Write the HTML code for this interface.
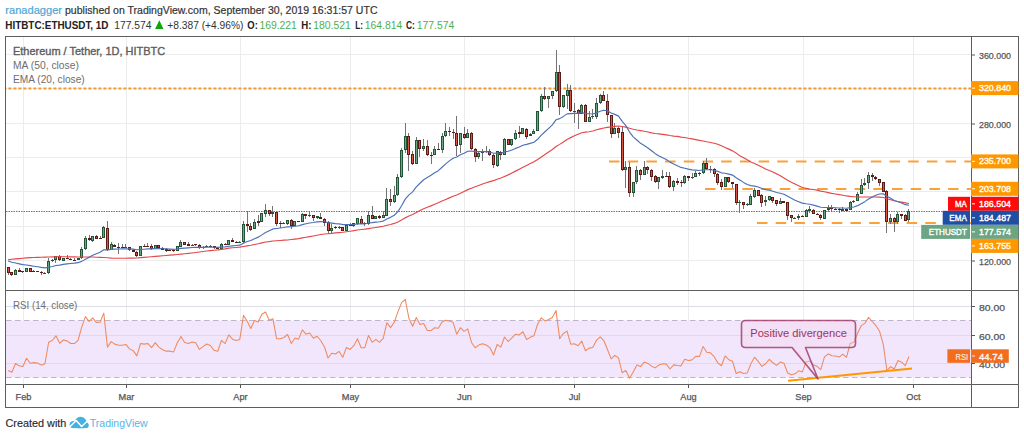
<!DOCTYPE html>
<html><head><meta charset="utf-8"><title>ETHUSDT chart</title><style>html,body{margin:0;padding:0;background:#fff;width:1024px;height:438px;overflow:hidden}svg{display:block}</style></head><body>
<svg width="1024" height="438" viewBox="0 0 1024 438">
<rect width="1024" height="438" fill="#ffffff"/>
<defs><clipPath id="cm"><rect x="6" y="37" width="965" height="253"/></clipPath><clipPath id="cr"><rect x="6" y="291" width="965" height="93"/></clipPath></defs>
<text font-family="&quot;Liberation Sans&quot;, sans-serif" font-size="11.2" y="13.7" stroke-width="0.2"><tspan x="5.3" fill="#4ba6d8" stroke="#4ba6d8" textLength="56.7" lengthAdjust="spacingAndGlyphs">ranadagger</tspan><tspan x="65" fill="#333333" stroke="#333333" textLength="312.5" lengthAdjust="spacingAndGlyphs">published on TradingView.com, September 30, 2019 16:31:57 UTC</tspan></text>
<text font-family="&quot;Liberation Sans&quot;, sans-serif" font-size="11" y="28.7"><tspan x="5.3" fill="#222222" font-weight="bold" textLength="103.2" lengthAdjust="spacingAndGlyphs">HITBTC:ETHUSDT, 1D</tspan><tspan x="114.2" fill="#333333" textLength="37.2" lengthAdjust="spacingAndGlyphs">177.574</tspan><tspan x="167.3" fill="#333333" textLength="76.2" lengthAdjust="spacingAndGlyphs">+8.387 (+4.96%)</tspan><tspan x="247.3" fill="#222222" font-weight="bold" textLength="10.5" lengthAdjust="spacingAndGlyphs">O:</tspan><tspan x="259.4" fill="#4caf50" textLength="37.4" lengthAdjust="spacingAndGlyphs">169.221</tspan><tspan x="301.2" fill="#222222" font-weight="bold" textLength="10.2" lengthAdjust="spacingAndGlyphs">H:</tspan><tspan x="313.3" fill="#4caf50" textLength="37.5" lengthAdjust="spacingAndGlyphs">180.521</tspan><tspan x="355.2" fill="#222222" font-weight="bold" textLength="7.7" lengthAdjust="spacingAndGlyphs">L:</tspan><tspan x="364.8" fill="#4caf50" textLength="37.4" lengthAdjust="spacingAndGlyphs">164.814</tspan><tspan x="406" fill="#222222" font-weight="bold" textLength="8.9" lengthAdjust="spacingAndGlyphs">C:</tspan><tspan x="416.8" fill="#4caf50" textLength="37.5" lengthAdjust="spacingAndGlyphs">177.574</tspan></text>
<polygon points="155.1,29.1 163.5,29.1 159.3,20.3" fill="#0ca60c"/>
<line x1="23.5" y1="37" x2="23.5" y2="384" stroke="#ececec" stroke-width="1"/><line x1="126.5" y1="37" x2="126.5" y2="384" stroke="#ececec" stroke-width="1"/><line x1="240.5" y1="37" x2="240.5" y2="384" stroke="#ececec" stroke-width="1"/><line x1="350.5" y1="37" x2="350.5" y2="384" stroke="#ececec" stroke-width="1"/><line x1="464.5" y1="37" x2="464.5" y2="384" stroke="#ececec" stroke-width="1"/><line x1="574.5" y1="37" x2="574.5" y2="384" stroke="#ececec" stroke-width="1"/><line x1="688.5" y1="37" x2="688.5" y2="384" stroke="#ececec" stroke-width="1"/><line x1="803.5" y1="37" x2="803.5" y2="384" stroke="#ececec" stroke-width="1"/><line x1="913.5" y1="37" x2="913.5" y2="384" stroke="#ececec" stroke-width="1"/><line x1="6" y1="54.5" x2="971" y2="54.5" stroke="#ececec" stroke-width="1"/><line x1="6" y1="88.5" x2="971" y2="88.5" stroke="#ececec" stroke-width="1"/><line x1="6" y1="123.5" x2="971" y2="123.5" stroke="#ececec" stroke-width="1"/><line x1="6" y1="157.5" x2="971" y2="157.5" stroke="#ececec" stroke-width="1"/><line x1="6" y1="191.5" x2="971" y2="191.5" stroke="#ececec" stroke-width="1"/><line x1="6" y1="226.5" x2="971" y2="226.5" stroke="#ececec" stroke-width="1"/><line x1="6" y1="260.5" x2="971" y2="260.5" stroke="#ececec" stroke-width="1"/>
<rect x="6" y="320.5" width="965" height="57" fill="#f1e6fc"/>
<line x1="6" y1="306.5" x2="971" y2="306.5" stroke="#dcdce4" stroke-width="1"/>
<line x1="6" y1="335.5" x2="971" y2="335.5" stroke="#dcdce4" stroke-width="1"/>
<line x1="6" y1="363.5" x2="971" y2="363.5" stroke="#dcdce4" stroke-width="1"/>
<line x1="6" y1="320.5" x2="971" y2="320.5" stroke="#bcb5cc" stroke-width="1" stroke-dasharray="5.5 3.5"/>
<line x1="6" y1="377.5" x2="971" y2="377.5" stroke="#bcb5cc" stroke-width="1" stroke-dasharray="5.5 3.5"/>
<g clip-path="url(#cm)">
<line x1="0" y1="88.6" x2="971" y2="88.6" stroke="#f59a2a" stroke-width="2" stroke-dasharray="3 2" stroke-dashoffset="1.6"/>
<line x1="609" y1="161.5" x2="971" y2="161.5" stroke="#f9a23c" stroke-width="2" stroke-dasharray="10.5 8.2"/>
<line x1="705" y1="189" x2="971" y2="189" stroke="#f9a23c" stroke-width="2" stroke-dasharray="10.5 8.2"/>
<line x1="757" y1="223" x2="971" y2="223" stroke="#f9a23c" stroke-width="2" stroke-dasharray="10.5 8.2"/>
<line x1="6" y1="211.5" x2="971" y2="211.5" stroke="#627a6a" stroke-width="1" stroke-dasharray="1.5 1"/>
<rect x="8" y="267" width="1" height="8" fill="#737375"/><rect x="7" y="267" width="3" height="6" fill="#5b1a13"/><rect x="8" y="268" width="1" height="4" fill="#d75442"/><rect x="11" y="272" width="1" height="4" fill="#737375"/><rect x="10" y="272" width="3" height="3" fill="#5b1a13"/><rect x="11" y="273" width="1" height="1" fill="#d75442"/><rect x="15" y="269" width="1" height="6" fill="#737375"/><rect x="14" y="270" width="3" height="5" fill="#225437"/><rect x="15" y="271" width="1" height="3" fill="#6ba583"/><rect x="19" y="268" width="1" height="4" fill="#737375"/><rect x="18" y="270" width="3" height="2" fill="#5b1a13"/><rect x="22" y="271" width="1" height="2" fill="#737375"/><rect x="21" y="271" width="3" height="1" fill="#5b1a13"/><rect x="26" y="268" width="1" height="4" fill="#737375"/><rect x="25" y="268" width="3" height="4" fill="#225437"/><rect x="26" y="269" width="1" height="2" fill="#6ba583"/><rect x="30" y="268" width="1" height="4" fill="#737375"/><rect x="29" y="268" width="3" height="4" fill="#5b1a13"/><rect x="30" y="269" width="1" height="2" fill="#d75442"/><rect x="33" y="270" width="1" height="2" fill="#737375"/><rect x="32" y="271" width="3" height="1" fill="#5b1a13"/><rect x="37" y="271" width="1" height="1" fill="#737375"/><rect x="36" y="271" width="3" height="1" fill="#5b1a13"/><rect x="41" y="271" width="1" height="4" fill="#737375"/><rect x="40" y="272" width="3" height="1" fill="#5b1a13"/><rect x="44" y="272" width="1" height="2" fill="#737375"/><rect x="43" y="273" width="3" height="1" fill="#225437"/><rect x="48" y="258" width="1" height="16" fill="#737375"/><rect x="47" y="261" width="3" height="12" fill="#225437"/><rect x="48" y="262" width="1" height="10" fill="#6ba583"/><rect x="52" y="259" width="1" height="3" fill="#737375"/><rect x="51" y="260" width="3" height="1" fill="#225437"/><rect x="55" y="256" width="1" height="7" fill="#737375"/><rect x="54" y="256" width="3" height="4" fill="#225437"/><rect x="55" y="257" width="1" height="2" fill="#6ba583"/><rect x="59" y="255" width="1" height="6" fill="#737375"/><rect x="58" y="256" width="3" height="4" fill="#5b1a13"/><rect x="59" y="257" width="1" height="2" fill="#d75442"/><rect x="63" y="258" width="1" height="3" fill="#737375"/><rect x="62" y="258" width="3" height="3" fill="#225437"/><rect x="63" y="259" width="1" height="1" fill="#6ba583"/><rect x="67" y="255" width="1" height="4" fill="#737375"/><rect x="66" y="258" width="3" height="1" fill="#5b1a13"/><rect x="70" y="258" width="1" height="2" fill="#737375"/><rect x="69" y="259" width="3" height="1" fill="#5b1a13"/><rect x="74" y="258" width="1" height="2" fill="#737375"/><rect x="73" y="260" width="3" height="1" fill="#5b1a13"/><rect x="78" y="258" width="1" height="2" fill="#737375"/><rect x="77" y="258" width="3" height="2" fill="#225437"/><rect x="81" y="247" width="1" height="12" fill="#737375"/><rect x="80" y="249" width="3" height="9" fill="#225437"/><rect x="81" y="250" width="1" height="7" fill="#6ba583"/><rect x="85" y="236" width="1" height="14" fill="#737375"/><rect x="84" y="238" width="3" height="11" fill="#225437"/><rect x="85" y="239" width="1" height="9" fill="#6ba583"/><rect x="89" y="235" width="1" height="6" fill="#737375"/><rect x="88" y="238" width="3" height="2" fill="#5b1a13"/><rect x="92" y="236" width="1" height="6" fill="#737375"/><rect x="91" y="236" width="3" height="5" fill="#225437"/><rect x="92" y="237" width="1" height="3" fill="#6ba583"/><rect x="96" y="235" width="1" height="4" fill="#737375"/><rect x="95" y="236" width="3" height="3" fill="#5b1a13"/><rect x="96" y="237" width="1" height="1" fill="#d75442"/><rect x="100" y="236" width="1" height="3" fill="#737375"/><rect x="99" y="238" width="3" height="1" fill="#5b1a13"/><rect x="103" y="226" width="1" height="12" fill="#737375"/><rect x="102" y="227" width="3" height="11" fill="#225437"/><rect x="103" y="228" width="1" height="9" fill="#6ba583"/><rect x="107" y="221" width="1" height="30" fill="#737375"/><rect x="106" y="228" width="3" height="22" fill="#5b1a13"/><rect x="107" y="229" width="1" height="20" fill="#d75442"/><rect x="111" y="242" width="1" height="8" fill="#737375"/><rect x="110" y="244" width="3" height="6" fill="#225437"/><rect x="111" y="245" width="1" height="4" fill="#6ba583"/><rect x="114" y="244" width="1" height="3" fill="#737375"/><rect x="113" y="245" width="3" height="2" fill="#5b1a13"/><rect x="118" y="243" width="1" height="11" fill="#737375"/><rect x="117" y="247" width="3" height="1" fill="#5b1a13"/><rect x="122" y="244" width="1" height="4" fill="#737375"/><rect x="121" y="247" width="3" height="1" fill="#5b1a13"/><rect x="125" y="244" width="1" height="4" fill="#737375"/><rect x="124" y="247" width="3" height="1" fill="#225437"/><rect x="129" y="247" width="1" height="4" fill="#737375"/><rect x="128" y="247" width="3" height="3" fill="#5b1a13"/><rect x="129" y="248" width="1" height="1" fill="#d75442"/><rect x="133" y="249" width="1" height="3" fill="#737375"/><rect x="132" y="250" width="3" height="2" fill="#5b1a13"/><rect x="136" y="251" width="1" height="6" fill="#737375"/><rect x="135" y="252" width="3" height="4" fill="#5b1a13"/><rect x="136" y="253" width="1" height="2" fill="#d75442"/><rect x="140" y="246" width="1" height="10" fill="#737375"/><rect x="139" y="246" width="3" height="10" fill="#225437"/><rect x="140" y="247" width="1" height="8" fill="#6ba583"/><rect x="144" y="244" width="1" height="3" fill="#737375"/><rect x="143" y="246" width="3" height="1" fill="#5b1a13"/><rect x="147" y="243" width="1" height="3" fill="#737375"/><rect x="146" y="246" width="3" height="1" fill="#5b1a13"/><rect x="151" y="244" width="1" height="6" fill="#737375"/><rect x="150" y="246" width="3" height="3" fill="#5b1a13"/><rect x="151" y="247" width="1" height="1" fill="#d75442"/><rect x="155" y="245" width="1" height="4" fill="#737375"/><rect x="154" y="245" width="3" height="4" fill="#225437"/><rect x="155" y="246" width="1" height="2" fill="#6ba583"/><rect x="158" y="245" width="1" height="4" fill="#737375"/><rect x="157" y="245" width="3" height="3" fill="#5b1a13"/><rect x="158" y="246" width="1" height="1" fill="#d75442"/><rect x="162" y="247" width="1" height="3" fill="#737375"/><rect x="161" y="248" width="3" height="2" fill="#5b1a13"/><rect x="166" y="248" width="1" height="4" fill="#737375"/><rect x="165" y="249" width="3" height="2" fill="#5b1a13"/><rect x="169" y="249" width="1" height="2" fill="#737375"/><rect x="168" y="250" width="3" height="1" fill="#5b1a13"/><rect x="173" y="249" width="1" height="3" fill="#737375"/><rect x="172" y="250" width="3" height="1" fill="#5b1a13"/><rect x="177" y="246" width="1" height="5" fill="#737375"/><rect x="176" y="246" width="3" height="5" fill="#225437"/><rect x="177" y="247" width="1" height="3" fill="#6ba583"/><rect x="180" y="240" width="1" height="7" fill="#737375"/><rect x="179" y="242" width="3" height="5" fill="#225437"/><rect x="180" y="243" width="1" height="3" fill="#6ba583"/><rect x="184" y="242" width="1" height="3" fill="#737375"/><rect x="183" y="242" width="3" height="3" fill="#5b1a13"/><rect x="184" y="243" width="1" height="1" fill="#d75442"/><rect x="188" y="242" width="1" height="4" fill="#737375"/><rect x="187" y="244" width="3" height="2" fill="#5b1a13"/><rect x="192" y="244" width="1" height="2" fill="#737375"/><rect x="191" y="245" width="3" height="1" fill="#225437"/><rect x="195" y="244" width="1" height="2" fill="#737375"/><rect x="194" y="244" width="3" height="1" fill="#5b1a13"/><rect x="199" y="244" width="1" height="5" fill="#737375"/><rect x="198" y="245" width="3" height="3" fill="#5b1a13"/><rect x="199" y="246" width="1" height="1" fill="#d75442"/><rect x="203" y="246" width="1" height="3" fill="#737375"/><rect x="202" y="247" width="3" height="1" fill="#225437"/><rect x="206" y="245" width="1" height="2" fill="#737375"/><rect x="205" y="246" width="3" height="1" fill="#225437"/><rect x="210" y="245" width="1" height="2" fill="#737375"/><rect x="209" y="246" width="3" height="1" fill="#5b1a13"/><rect x="214" y="246" width="1" height="3" fill="#737375"/><rect x="213" y="246" width="3" height="2" fill="#5b1a13"/><rect x="217" y="247" width="1" height="2" fill="#737375"/><rect x="216" y="248" width="3" height="1" fill="#5b1a13"/><rect x="221" y="243" width="1" height="6" fill="#737375"/><rect x="220" y="244" width="3" height="5" fill="#225437"/><rect x="221" y="245" width="1" height="3" fill="#6ba583"/><rect x="225" y="243" width="1" height="2" fill="#737375"/><rect x="224" y="244" width="3" height="1" fill="#5b1a13"/><rect x="228" y="240" width="1" height="5" fill="#737375"/><rect x="227" y="240" width="3" height="5" fill="#225437"/><rect x="228" y="241" width="1" height="3" fill="#6ba583"/><rect x="232" y="238" width="1" height="4" fill="#737375"/><rect x="231" y="240" width="3" height="2" fill="#5b1a13"/><rect x="236" y="241" width="1" height="2" fill="#737375"/><rect x="235" y="242" width="3" height="1" fill="#5b1a13"/><rect x="239" y="241" width="1" height="2" fill="#737375"/><rect x="238" y="242" width="3" height="1" fill="#225437"/><rect x="243" y="221" width="1" height="22" fill="#737375"/><rect x="242" y="224" width="3" height="18" fill="#225437"/><rect x="243" y="225" width="1" height="16" fill="#6ba583"/><rect x="247" y="211" width="1" height="21" fill="#737375"/><rect x="246" y="224" width="3" height="2" fill="#5b1a13"/><rect x="250" y="223" width="1" height="8" fill="#737375"/><rect x="249" y="226" width="3" height="4" fill="#5b1a13"/><rect x="250" y="227" width="1" height="2" fill="#d75442"/><rect x="254" y="219" width="1" height="10" fill="#737375"/><rect x="253" y="222" width="3" height="7" fill="#225437"/><rect x="254" y="223" width="1" height="5" fill="#6ba583"/><rect x="258" y="215" width="1" height="11" fill="#737375"/><rect x="257" y="221" width="3" height="2" fill="#5b1a13"/><rect x="261" y="213" width="1" height="9" fill="#737375"/><rect x="260" y="213" width="3" height="9" fill="#225437"/><rect x="261" y="214" width="1" height="7" fill="#6ba583"/><rect x="265" y="204" width="1" height="13" fill="#737375"/><rect x="264" y="210" width="3" height="4" fill="#225437"/><rect x="265" y="211" width="1" height="2" fill="#6ba583"/><rect x="269" y="210" width="1" height="6" fill="#737375"/><rect x="268" y="210" width="3" height="4" fill="#5b1a13"/><rect x="269" y="211" width="1" height="2" fill="#d75442"/><rect x="272" y="206" width="1" height="11" fill="#737375"/><rect x="271" y="212" width="3" height="2" fill="#225437"/><rect x="276" y="211" width="1" height="15" fill="#737375"/><rect x="275" y="212" width="3" height="12" fill="#5b1a13"/><rect x="276" y="213" width="1" height="10" fill="#d75442"/><rect x="280" y="221" width="1" height="7" fill="#737375"/><rect x="279" y="223" width="3" height="1" fill="#5b1a13"/><rect x="283" y="222" width="1" height="2" fill="#737375"/><rect x="282" y="223" width="3" height="1" fill="#225437"/><rect x="287" y="220" width="1" height="5" fill="#737375"/><rect x="286" y="220" width="3" height="4" fill="#225437"/><rect x="287" y="221" width="1" height="2" fill="#6ba583"/><rect x="291" y="219" width="1" height="10" fill="#737375"/><rect x="290" y="220" width="3" height="6" fill="#5b1a13"/><rect x="291" y="221" width="1" height="4" fill="#d75442"/><rect x="294" y="221" width="1" height="5" fill="#737375"/><rect x="293" y="221" width="3" height="5" fill="#225437"/><rect x="294" y="222" width="1" height="3" fill="#6ba583"/><rect x="298" y="221" width="1" height="1" fill="#737375"/><rect x="297" y="221" width="3" height="1" fill="#5b1a13"/><rect x="302" y="213" width="1" height="9" fill="#737375"/><rect x="301" y="214" width="3" height="8" fill="#225437"/><rect x="302" y="215" width="1" height="6" fill="#6ba583"/><rect x="305" y="214" width="1" height="5" fill="#737375"/><rect x="304" y="214" width="3" height="2" fill="#5b1a13"/><rect x="309" y="212" width="1" height="5" fill="#737375"/><rect x="308" y="215" width="3" height="1" fill="#225437"/><rect x="313" y="215" width="1" height="6" fill="#737375"/><rect x="312" y="215" width="3" height="3" fill="#5b1a13"/><rect x="313" y="216" width="1" height="1" fill="#d75442"/><rect x="317" y="216" width="1" height="3" fill="#737375"/><rect x="316" y="216" width="3" height="2" fill="#225437"/><rect x="320" y="213" width="1" height="6" fill="#737375"/><rect x="319" y="217" width="3" height="2" fill="#5b1a13"/><rect x="324" y="218" width="1" height="8" fill="#737375"/><rect x="323" y="219" width="3" height="4" fill="#5b1a13"/><rect x="324" y="220" width="1" height="2" fill="#d75442"/><rect x="328" y="221" width="1" height="13" fill="#737375"/><rect x="327" y="222" width="3" height="9" fill="#5b1a13"/><rect x="328" y="223" width="1" height="7" fill="#d75442"/><rect x="331" y="224" width="1" height="9" fill="#737375"/><rect x="330" y="228" width="3" height="3" fill="#225437"/><rect x="331" y="229" width="1" height="1" fill="#6ba583"/><rect x="335" y="226" width="1" height="3" fill="#737375"/><rect x="334" y="227" width="3" height="1" fill="#5b1a13"/><rect x="339" y="226" width="1" height="3" fill="#737375"/><rect x="338" y="227" width="3" height="1" fill="#225437"/><rect x="342" y="227" width="1" height="4" fill="#737375"/><rect x="341" y="227" width="3" height="4" fill="#5b1a13"/><rect x="342" y="228" width="1" height="2" fill="#d75442"/><rect x="346" y="224" width="1" height="7" fill="#737375"/><rect x="345" y="225" width="3" height="6" fill="#225437"/><rect x="346" y="226" width="1" height="4" fill="#6ba583"/><rect x="350" y="223" width="1" height="3" fill="#737375"/><rect x="349" y="224" width="3" height="2" fill="#5b1a13"/><rect x="353" y="223" width="1" height="4" fill="#737375"/><rect x="352" y="223" width="3" height="3" fill="#225437"/><rect x="353" y="224" width="1" height="1" fill="#6ba583"/><rect x="357" y="218" width="1" height="7" fill="#737375"/><rect x="356" y="218" width="3" height="6" fill="#225437"/><rect x="357" y="219" width="1" height="4" fill="#6ba583"/><rect x="361" y="216" width="1" height="8" fill="#737375"/><rect x="360" y="219" width="3" height="5" fill="#5b1a13"/><rect x="361" y="220" width="1" height="3" fill="#d75442"/><rect x="364" y="222" width="1" height="4" fill="#737375"/><rect x="363" y="223" width="3" height="1" fill="#5b1a13"/><rect x="368" y="211" width="1" height="14" fill="#737375"/><rect x="367" y="215" width="3" height="9" fill="#225437"/><rect x="368" y="216" width="1" height="7" fill="#6ba583"/><rect x="372" y="206" width="1" height="13" fill="#737375"/><rect x="371" y="215" width="3" height="4" fill="#5b1a13"/><rect x="372" y="216" width="1" height="2" fill="#d75442"/><rect x="375" y="216" width="1" height="3" fill="#737375"/><rect x="374" y="216" width="3" height="3" fill="#225437"/><rect x="375" y="217" width="1" height="1" fill="#6ba583"/><rect x="379" y="215" width="1" height="4" fill="#737375"/><rect x="378" y="216" width="3" height="2" fill="#5b1a13"/><rect x="383" y="211" width="1" height="7" fill="#737375"/><rect x="382" y="215" width="3" height="3" fill="#225437"/><rect x="383" y="216" width="1" height="1" fill="#6ba583"/><rect x="386" y="188" width="1" height="28" fill="#737375"/><rect x="385" y="199" width="3" height="17" fill="#225437"/><rect x="386" y="200" width="1" height="15" fill="#6ba583"/><rect x="390" y="189" width="1" height="17" fill="#737375"/><rect x="389" y="199" width="3" height="3" fill="#5b1a13"/><rect x="390" y="200" width="1" height="1" fill="#d75442"/><rect x="394" y="186" width="1" height="17" fill="#737375"/><rect x="393" y="195" width="3" height="7" fill="#225437"/><rect x="394" y="196" width="1" height="5" fill="#6ba583"/><rect x="397" y="174" width="1" height="22" fill="#737375"/><rect x="396" y="177" width="3" height="18" fill="#225437"/><rect x="397" y="178" width="1" height="16" fill="#6ba583"/><rect x="401" y="148" width="1" height="30" fill="#737375"/><rect x="400" y="150" width="3" height="27" fill="#225437"/><rect x="401" y="151" width="1" height="25" fill="#6ba583"/><rect x="405" y="123" width="1" height="30" fill="#737375"/><rect x="404" y="136" width="3" height="14" fill="#225437"/><rect x="405" y="137" width="1" height="12" fill="#6ba583"/><rect x="408" y="133" width="1" height="38" fill="#737375"/><rect x="407" y="136" width="3" height="19" fill="#5b1a13"/><rect x="408" y="137" width="1" height="17" fill="#d75442"/><rect x="412" y="151" width="1" height="14" fill="#737375"/><rect x="411" y="154" width="3" height="10" fill="#5b1a13"/><rect x="412" y="155" width="1" height="8" fill="#d75442"/><rect x="416" y="137" width="1" height="27" fill="#737375"/><rect x="415" y="140" width="3" height="24" fill="#225437"/><rect x="416" y="141" width="1" height="22" fill="#6ba583"/><rect x="419" y="140" width="1" height="17" fill="#737375"/><rect x="418" y="140" width="3" height="9" fill="#5b1a13"/><rect x="419" y="141" width="1" height="7" fill="#d75442"/><rect x="423" y="139" width="1" height="12" fill="#737375"/><rect x="422" y="146" width="3" height="3" fill="#225437"/><rect x="423" y="147" width="1" height="1" fill="#6ba583"/><rect x="427" y="140" width="1" height="16" fill="#737375"/><rect x="426" y="146" width="3" height="9" fill="#5b1a13"/><rect x="427" y="147" width="1" height="7" fill="#d75442"/><rect x="431" y="152" width="1" height="12" fill="#737375"/><rect x="430" y="155" width="3" height="1" fill="#5b1a13"/><rect x="434" y="146" width="1" height="9" fill="#737375"/><rect x="433" y="149" width="3" height="6" fill="#225437"/><rect x="434" y="150" width="1" height="4" fill="#6ba583"/><rect x="438" y="143" width="1" height="7" fill="#737375"/><rect x="437" y="149" width="3" height="1" fill="#5b1a13"/><rect x="442" y="133" width="1" height="20" fill="#737375"/><rect x="441" y="136" width="3" height="14" fill="#225437"/><rect x="442" y="137" width="1" height="12" fill="#6ba583"/><rect x="445" y="123" width="1" height="14" fill="#737375"/><rect x="444" y="131" width="3" height="5" fill="#225437"/><rect x="445" y="132" width="1" height="3" fill="#6ba583"/><rect x="449" y="127" width="1" height="9" fill="#737375"/><rect x="448" y="131" width="3" height="1" fill="#5b1a13"/><rect x="453" y="129" width="1" height="10" fill="#737375"/><rect x="452" y="132" width="3" height="1" fill="#5b1a13"/><rect x="456" y="116" width="1" height="40" fill="#737375"/><rect x="455" y="133" width="3" height="13" fill="#5b1a13"/><rect x="456" y="134" width="1" height="11" fill="#d75442"/><rect x="460" y="133" width="1" height="20" fill="#737375"/><rect x="459" y="133" width="3" height="12" fill="#225437"/><rect x="460" y="134" width="1" height="10" fill="#6ba583"/><rect x="464" y="127" width="1" height="12" fill="#737375"/><rect x="463" y="134" width="3" height="4" fill="#5b1a13"/><rect x="464" y="135" width="1" height="2" fill="#d75442"/><rect x="467" y="129" width="1" height="9" fill="#737375"/><rect x="466" y="133" width="3" height="5" fill="#225437"/><rect x="467" y="134" width="1" height="3" fill="#6ba583"/><rect x="471" y="132" width="1" height="18" fill="#737375"/><rect x="470" y="133" width="3" height="16" fill="#5b1a13"/><rect x="471" y="134" width="1" height="14" fill="#d75442"/><rect x="475" y="148" width="1" height="14" fill="#737375"/><rect x="474" y="149" width="3" height="8" fill="#5b1a13"/><rect x="475" y="150" width="1" height="6" fill="#d75442"/><rect x="478" y="152" width="1" height="7" fill="#737375"/><rect x="477" y="153" width="3" height="4" fill="#225437"/><rect x="478" y="154" width="1" height="2" fill="#6ba583"/><rect x="482" y="149" width="1" height="12" fill="#737375"/><rect x="481" y="151" width="3" height="2" fill="#225437"/><rect x="486" y="146" width="1" height="7" fill="#737375"/><rect x="485" y="151" width="3" height="1" fill="#5b1a13"/><rect x="489" y="149" width="1" height="7" fill="#737375"/><rect x="488" y="151" width="3" height="4" fill="#5b1a13"/><rect x="489" y="152" width="1" height="2" fill="#d75442"/><rect x="493" y="154" width="1" height="14" fill="#737375"/><rect x="492" y="155" width="3" height="10" fill="#5b1a13"/><rect x="493" y="156" width="1" height="8" fill="#d75442"/><rect x="497" y="151" width="1" height="16" fill="#737375"/><rect x="496" y="151" width="3" height="15" fill="#225437"/><rect x="497" y="152" width="1" height="13" fill="#6ba583"/><rect x="500" y="151" width="1" height="9" fill="#737375"/><rect x="499" y="152" width="3" height="3" fill="#5b1a13"/><rect x="500" y="153" width="1" height="1" fill="#d75442"/><rect x="504" y="138" width="1" height="17" fill="#737375"/><rect x="503" y="139" width="3" height="16" fill="#225437"/><rect x="504" y="140" width="1" height="14" fill="#6ba583"/><rect x="508" y="139" width="1" height="6" fill="#737375"/><rect x="507" y="139" width="3" height="6" fill="#5b1a13"/><rect x="508" y="140" width="1" height="4" fill="#d75442"/><rect x="511" y="139" width="1" height="7" fill="#737375"/><rect x="510" y="139" width="3" height="6" fill="#225437"/><rect x="511" y="140" width="1" height="4" fill="#6ba583"/><rect x="515" y="130" width="1" height="10" fill="#737375"/><rect x="514" y="133" width="3" height="6" fill="#225437"/><rect x="515" y="134" width="1" height="4" fill="#6ba583"/><rect x="519" y="126" width="1" height="12" fill="#737375"/><rect x="518" y="132" width="3" height="2" fill="#5b1a13"/><rect x="522" y="128" width="1" height="6" fill="#737375"/><rect x="521" y="128" width="3" height="6" fill="#225437"/><rect x="522" y="129" width="1" height="4" fill="#6ba583"/><rect x="526" y="128" width="1" height="11" fill="#737375"/><rect x="525" y="129" width="3" height="8" fill="#5b1a13"/><rect x="526" y="130" width="1" height="6" fill="#d75442"/><rect x="530" y="133" width="1" height="3" fill="#737375"/><rect x="529" y="134" width="3" height="2" fill="#225437"/><rect x="533" y="129" width="1" height="5" fill="#737375"/><rect x="532" y="131" width="3" height="3" fill="#225437"/><rect x="533" y="132" width="1" height="1" fill="#6ba583"/><rect x="537" y="111" width="1" height="20" fill="#737375"/><rect x="536" y="111" width="3" height="20" fill="#225437"/><rect x="537" y="112" width="1" height="18" fill="#6ba583"/><rect x="541" y="94" width="1" height="18" fill="#737375"/><rect x="540" y="96" width="3" height="15" fill="#225437"/><rect x="541" y="97" width="1" height="13" fill="#6ba583"/><rect x="544" y="87" width="1" height="13" fill="#737375"/><rect x="543" y="96" width="3" height="3" fill="#5b1a13"/><rect x="544" y="97" width="1" height="1" fill="#d75442"/><rect x="548" y="96" width="1" height="12" fill="#737375"/><rect x="547" y="96" width="3" height="3" fill="#225437"/><rect x="548" y="97" width="1" height="1" fill="#6ba583"/><rect x="552" y="91" width="1" height="8" fill="#737375"/><rect x="551" y="91" width="3" height="5" fill="#225437"/><rect x="552" y="92" width="1" height="3" fill="#6ba583"/><rect x="556" y="50" width="1" height="42" fill="#737375"/><rect x="555" y="72" width="3" height="19" fill="#225437"/><rect x="556" y="73" width="1" height="17" fill="#6ba583"/><rect x="559" y="65" width="1" height="50" fill="#737375"/><rect x="558" y="72" width="3" height="35" fill="#5b1a13"/><rect x="559" y="73" width="1" height="33" fill="#d75442"/><rect x="563" y="95" width="1" height="13" fill="#737375"/><rect x="562" y="95" width="3" height="12" fill="#225437"/><rect x="563" y="96" width="1" height="10" fill="#6ba583"/><rect x="567" y="84" width="1" height="25" fill="#737375"/><rect x="566" y="90" width="3" height="6" fill="#225437"/><rect x="567" y="91" width="1" height="4" fill="#6ba583"/><rect x="570" y="85" width="1" height="27" fill="#737375"/><rect x="569" y="90" width="3" height="21" fill="#5b1a13"/><rect x="570" y="91" width="1" height="19" fill="#d75442"/><rect x="574" y="103" width="1" height="20" fill="#737375"/><rect x="573" y="111" width="3" height="1" fill="#225437"/><rect x="578" y="109" width="1" height="20" fill="#737375"/><rect x="577" y="110" width="3" height="4" fill="#5b1a13"/><rect x="578" y="111" width="1" height="2" fill="#d75442"/><rect x="581" y="104" width="1" height="10" fill="#737375"/><rect x="580" y="105" width="3" height="9" fill="#225437"/><rect x="581" y="106" width="1" height="7" fill="#6ba583"/><rect x="585" y="104" width="1" height="18" fill="#737375"/><rect x="584" y="105" width="3" height="17" fill="#5b1a13"/><rect x="585" y="106" width="1" height="15" fill="#d75442"/><rect x="589" y="111" width="1" height="11" fill="#737375"/><rect x="588" y="117" width="3" height="5" fill="#225437"/><rect x="589" y="118" width="1" height="3" fill="#6ba583"/><rect x="592" y="109" width="1" height="10" fill="#737375"/><rect x="591" y="116" width="3" height="1" fill="#225437"/><rect x="596" y="98" width="1" height="21" fill="#737375"/><rect x="595" y="103" width="3" height="14" fill="#225437"/><rect x="596" y="104" width="1" height="12" fill="#6ba583"/><rect x="600" y="94" width="1" height="10" fill="#737375"/><rect x="599" y="95" width="3" height="8" fill="#225437"/><rect x="600" y="96" width="1" height="6" fill="#6ba583"/><rect x="603" y="91" width="1" height="10" fill="#737375"/><rect x="602" y="95" width="3" height="6" fill="#5b1a13"/><rect x="603" y="96" width="1" height="4" fill="#d75442"/><rect x="607" y="94" width="1" height="28" fill="#737375"/><rect x="606" y="101" width="3" height="14" fill="#5b1a13"/><rect x="607" y="102" width="1" height="12" fill="#d75442"/><rect x="611" y="115" width="1" height="23" fill="#737375"/><rect x="610" y="115" width="3" height="19" fill="#5b1a13"/><rect x="611" y="116" width="1" height="17" fill="#d75442"/><rect x="614" y="123" width="1" height="11" fill="#737375"/><rect x="613" y="128" width="3" height="6" fill="#225437"/><rect x="614" y="129" width="1" height="4" fill="#6ba583"/><rect x="618" y="127" width="1" height="11" fill="#737375"/><rect x="617" y="128" width="3" height="5" fill="#5b1a13"/><rect x="618" y="129" width="1" height="3" fill="#d75442"/><rect x="622" y="127" width="1" height="44" fill="#737375"/><rect x="621" y="132" width="3" height="38" fill="#5b1a13"/><rect x="622" y="133" width="1" height="36" fill="#d75442"/><rect x="625" y="161" width="1" height="27" fill="#737375"/><rect x="624" y="167" width="3" height="3" fill="#225437"/><rect x="625" y="168" width="1" height="1" fill="#6ba583"/><rect x="629" y="162" width="1" height="35" fill="#737375"/><rect x="628" y="167" width="3" height="26" fill="#5b1a13"/><rect x="629" y="168" width="1" height="24" fill="#d75442"/><rect x="633" y="182" width="1" height="15" fill="#737375"/><rect x="632" y="182" width="3" height="11" fill="#225437"/><rect x="633" y="183" width="1" height="9" fill="#6ba583"/><rect x="636" y="166" width="1" height="18" fill="#737375"/><rect x="635" y="170" width="3" height="12" fill="#225437"/><rect x="636" y="171" width="1" height="10" fill="#6ba583"/><rect x="640" y="169" width="1" height="11" fill="#737375"/><rect x="639" y="170" width="3" height="5" fill="#5b1a13"/><rect x="640" y="171" width="1" height="3" fill="#d75442"/><rect x="644" y="161" width="1" height="14" fill="#737375"/><rect x="643" y="167" width="3" height="8" fill="#225437"/><rect x="644" y="168" width="1" height="6" fill="#6ba583"/><rect x="647" y="166" width="1" height="8" fill="#737375"/><rect x="646" y="167" width="3" height="3" fill="#5b1a13"/><rect x="647" y="168" width="1" height="1" fill="#d75442"/><rect x="651" y="169" width="1" height="12" fill="#737375"/><rect x="650" y="170" width="3" height="7" fill="#5b1a13"/><rect x="651" y="171" width="1" height="5" fill="#d75442"/><rect x="655" y="175" width="1" height="8" fill="#737375"/><rect x="654" y="176" width="3" height="6" fill="#5b1a13"/><rect x="655" y="177" width="1" height="4" fill="#d75442"/><rect x="658" y="177" width="1" height="12" fill="#737375"/><rect x="657" y="177" width="3" height="5" fill="#225437"/><rect x="658" y="178" width="1" height="3" fill="#6ba583"/><rect x="662" y="170" width="1" height="9" fill="#737375"/><rect x="661" y="176" width="3" height="2" fill="#225437"/><rect x="666" y="172" width="1" height="5" fill="#737375"/><rect x="665" y="176" width="3" height="1" fill="#5b1a13"/><rect x="669" y="172" width="1" height="16" fill="#737375"/><rect x="668" y="176" width="3" height="11" fill="#5b1a13"/><rect x="669" y="177" width="1" height="9" fill="#d75442"/><rect x="673" y="180" width="1" height="11" fill="#737375"/><rect x="672" y="181" width="3" height="6" fill="#225437"/><rect x="673" y="182" width="1" height="4" fill="#6ba583"/><rect x="677" y="178" width="1" height="7" fill="#737375"/><rect x="676" y="181" width="3" height="2" fill="#5b1a13"/><rect x="681" y="180" width="1" height="7" fill="#737375"/><rect x="680" y="182" width="3" height="1" fill="#5b1a13"/><rect x="684" y="175" width="1" height="9" fill="#737375"/><rect x="683" y="176" width="3" height="7" fill="#225437"/><rect x="684" y="177" width="1" height="5" fill="#6ba583"/><rect x="688" y="176" width="1" height="5" fill="#737375"/><rect x="687" y="176" width="3" height="2" fill="#5b1a13"/><rect x="692" y="173" width="1" height="6" fill="#737375"/><rect x="691" y="177" width="3" height="1" fill="#225437"/><rect x="695" y="171" width="1" height="6" fill="#737375"/><rect x="694" y="173" width="3" height="4" fill="#225437"/><rect x="695" y="174" width="1" height="2" fill="#6ba583"/><rect x="699" y="172" width="1" height="4" fill="#737375"/><rect x="698" y="173" width="3" height="1" fill="#5b1a13"/><rect x="703" y="161" width="1" height="13" fill="#737375"/><rect x="702" y="163" width="3" height="10" fill="#225437"/><rect x="703" y="164" width="1" height="8" fill="#6ba583"/><rect x="706" y="158" width="1" height="12" fill="#737375"/><rect x="705" y="163" width="3" height="6" fill="#5b1a13"/><rect x="706" y="164" width="1" height="4" fill="#d75442"/><rect x="710" y="166" width="1" height="7" fill="#737375"/><rect x="709" y="169" width="3" height="1" fill="#5b1a13"/><rect x="714" y="168" width="1" height="9" fill="#737375"/><rect x="713" y="169" width="3" height="5" fill="#5b1a13"/><rect x="714" y="170" width="1" height="3" fill="#d75442"/><rect x="717" y="173" width="1" height="12" fill="#737375"/><rect x="716" y="174" width="3" height="9" fill="#5b1a13"/><rect x="717" y="175" width="1" height="7" fill="#d75442"/><rect x="721" y="179" width="1" height="11" fill="#737375"/><rect x="720" y="182" width="3" height="5" fill="#5b1a13"/><rect x="721" y="183" width="1" height="3" fill="#d75442"/><rect x="725" y="177" width="1" height="10" fill="#737375"/><rect x="724" y="177" width="3" height="10" fill="#225437"/><rect x="725" y="178" width="1" height="8" fill="#6ba583"/><rect x="728" y="177" width="1" height="6" fill="#737375"/><rect x="727" y="177" width="3" height="5" fill="#5b1a13"/><rect x="728" y="178" width="1" height="3" fill="#d75442"/><rect x="732" y="182" width="1" height="6" fill="#737375"/><rect x="731" y="182" width="3" height="2" fill="#5b1a13"/><rect x="736" y="184" width="1" height="21" fill="#737375"/><rect x="735" y="184" width="3" height="19" fill="#5b1a13"/><rect x="736" y="185" width="1" height="17" fill="#d75442"/><rect x="739" y="200" width="1" height="13" fill="#737375"/><rect x="738" y="202" width="3" height="1" fill="#225437"/><rect x="743" y="202" width="1" height="7" fill="#737375"/><rect x="742" y="202" width="3" height="3" fill="#5b1a13"/><rect x="743" y="203" width="1" height="1" fill="#d75442"/><rect x="747" y="203" width="1" height="3" fill="#737375"/><rect x="746" y="204" width="3" height="1" fill="#225437"/><rect x="750" y="194" width="1" height="11" fill="#737375"/><rect x="749" y="196" width="3" height="9" fill="#225437"/><rect x="750" y="197" width="1" height="7" fill="#6ba583"/><rect x="754" y="188" width="1" height="10" fill="#737375"/><rect x="753" y="190" width="3" height="7" fill="#225437"/><rect x="754" y="191" width="1" height="5" fill="#6ba583"/><rect x="758" y="190" width="1" height="6" fill="#737375"/><rect x="757" y="190" width="3" height="6" fill="#5b1a13"/><rect x="758" y="191" width="1" height="4" fill="#d75442"/><rect x="761" y="194" width="1" height="13" fill="#737375"/><rect x="760" y="195" width="3" height="8" fill="#5b1a13"/><rect x="761" y="196" width="1" height="6" fill="#d75442"/><rect x="765" y="196" width="1" height="10" fill="#737375"/><rect x="764" y="200" width="3" height="2" fill="#225437"/><rect x="769" y="196" width="1" height="5" fill="#737375"/><rect x="768" y="196" width="3" height="4" fill="#225437"/><rect x="769" y="197" width="1" height="2" fill="#6ba583"/><rect x="772" y="197" width="1" height="6" fill="#737375"/><rect x="771" y="197" width="3" height="4" fill="#5b1a13"/><rect x="772" y="198" width="1" height="2" fill="#d75442"/><rect x="776" y="200" width="1" height="6" fill="#737375"/><rect x="775" y="200" width="3" height="4" fill="#5b1a13"/><rect x="776" y="201" width="1" height="2" fill="#d75442"/><rect x="780" y="198" width="1" height="6" fill="#737375"/><rect x="779" y="201" width="3" height="3" fill="#225437"/><rect x="780" y="202" width="1" height="1" fill="#6ba583"/><rect x="783" y="201" width="1" height="2" fill="#737375"/><rect x="782" y="201" width="3" height="2" fill="#5b1a13"/><rect x="787" y="202" width="1" height="18" fill="#737375"/><rect x="786" y="202" width="3" height="14" fill="#5b1a13"/><rect x="787" y="203" width="1" height="12" fill="#d75442"/><rect x="791" y="215" width="1" height="7" fill="#737375"/><rect x="790" y="215" width="3" height="3" fill="#5b1a13"/><rect x="791" y="216" width="1" height="1" fill="#d75442"/><rect x="794" y="217" width="1" height="2" fill="#737375"/><rect x="793" y="218" width="3" height="1" fill="#225437"/><rect x="798" y="214" width="1" height="6" fill="#737375"/><rect x="797" y="216" width="3" height="2" fill="#225437"/><rect x="802" y="215" width="1" height="2" fill="#737375"/><rect x="801" y="216" width="3" height="1" fill="#5b1a13"/><rect x="806" y="209" width="1" height="8" fill="#737375"/><rect x="805" y="210" width="3" height="7" fill="#225437"/><rect x="806" y="211" width="1" height="5" fill="#6ba583"/><rect x="809" y="206" width="1" height="7" fill="#737375"/><rect x="808" y="209" width="3" height="2" fill="#225437"/><rect x="813" y="209" width="1" height="5" fill="#737375"/><rect x="812" y="210" width="3" height="4" fill="#5b1a13"/><rect x="813" y="211" width="1" height="2" fill="#d75442"/><rect x="817" y="213" width="1" height="2" fill="#737375"/><rect x="816" y="214" width="3" height="1" fill="#5b1a13"/><rect x="820" y="214" width="1" height="6" fill="#737375"/><rect x="819" y="215" width="3" height="3" fill="#5b1a13"/><rect x="820" y="216" width="1" height="1" fill="#d75442"/><rect x="824" y="210" width="1" height="9" fill="#737375"/><rect x="823" y="210" width="3" height="9" fill="#225437"/><rect x="824" y="211" width="1" height="7" fill="#6ba583"/><rect x="828" y="205" width="1" height="7" fill="#737375"/><rect x="827" y="208" width="3" height="2" fill="#225437"/><rect x="831" y="205" width="1" height="6" fill="#737375"/><rect x="830" y="208" width="3" height="1" fill="#5b1a13"/><rect x="835" y="208" width="1" height="2" fill="#737375"/><rect x="834" y="209" width="3" height="1" fill="#5b1a13"/><rect x="839" y="208" width="1" height="5" fill="#737375"/><rect x="838" y="209" width="3" height="1" fill="#5b1a13"/><rect x="842" y="207" width="1" height="4" fill="#737375"/><rect x="841" y="209" width="3" height="2" fill="#225437"/><rect x="846" y="209" width="1" height="2" fill="#737375"/><rect x="845" y="209" width="3" height="2" fill="#5b1a13"/><rect x="850" y="201" width="1" height="9" fill="#737375"/><rect x="849" y="202" width="3" height="8" fill="#225437"/><rect x="850" y="203" width="1" height="6" fill="#6ba583"/><rect x="853" y="200" width="1" height="3" fill="#737375"/><rect x="852" y="201" width="3" height="1" fill="#225437"/><rect x="857" y="192" width="1" height="9" fill="#737375"/><rect x="856" y="194" width="3" height="7" fill="#225437"/><rect x="857" y="195" width="1" height="5" fill="#6ba583"/><rect x="861" y="179" width="1" height="15" fill="#737375"/><rect x="860" y="185" width="3" height="9" fill="#225437"/><rect x="861" y="186" width="1" height="7" fill="#6ba583"/><rect x="864" y="178" width="1" height="8" fill="#737375"/><rect x="863" y="183" width="3" height="2" fill="#225437"/><rect x="868" y="172" width="1" height="17" fill="#737375"/><rect x="867" y="175" width="3" height="8" fill="#225437"/><rect x="868" y="176" width="1" height="6" fill="#6ba583"/><rect x="872" y="173" width="1" height="8" fill="#737375"/><rect x="871" y="175" width="3" height="2" fill="#5b1a13"/><rect x="875" y="176" width="1" height="4" fill="#737375"/><rect x="874" y="177" width="3" height="2" fill="#5b1a13"/><rect x="879" y="179" width="1" height="7" fill="#737375"/><rect x="878" y="179" width="3" height="4" fill="#5b1a13"/><rect x="879" y="180" width="1" height="2" fill="#d75442"/><rect x="883" y="182" width="1" height="10" fill="#737375"/><rect x="882" y="182" width="3" height="10" fill="#5b1a13"/><rect x="883" y="183" width="1" height="8" fill="#d75442"/><rect x="886" y="190" width="1" height="43" fill="#737375"/><rect x="885" y="191" width="3" height="31" fill="#5b1a13"/><rect x="886" y="192" width="1" height="29" fill="#d75442"/><rect x="890" y="214" width="1" height="10" fill="#737375"/><rect x="889" y="218" width="3" height="4" fill="#225437"/><rect x="890" y="219" width="1" height="2" fill="#6ba583"/><rect x="894" y="217" width="1" height="15" fill="#737375"/><rect x="893" y="218" width="3" height="4" fill="#5b1a13"/><rect x="894" y="219" width="1" height="2" fill="#d75442"/><rect x="897" y="212" width="1" height="12" fill="#737375"/><rect x="896" y="214" width="3" height="8" fill="#225437"/><rect x="897" y="215" width="1" height="6" fill="#6ba583"/><rect x="901" y="214" width="1" height="5" fill="#737375"/><rect x="900" y="214" width="3" height="2" fill="#5b1a13"/><rect x="905" y="214" width="1" height="7" fill="#737375"/><rect x="904" y="215" width="3" height="6" fill="#5b1a13"/><rect x="905" y="216" width="1" height="4" fill="#d75442"/><rect x="908" y="209" width="1" height="13" fill="#737375"/><rect x="907" y="211" width="3" height="9" fill="#225437"/><rect x="908" y="212" width="1" height="7" fill="#6ba583"/>
<polyline points="8.18,259.57 11.86,259.25 15.53,258.94 19.21,258.62 22.89,258.25 26.56,257.88 30.24,257.57 33.92,257.46 37.59,257.34 41.27,257.23 44.95,257.12 48.62,257.01 52.3,256.86 55.98,256.71 59.65,256.62 63.33,256.7 67.01,256.77 70.68,256.85 74.36,256.92 78.04,257 81.71,257 85.39,257 89.07,257 92.74,257.04 96.42,257.2 100.1,257.36 103.77,257.52 107.45,257.8 111.13,258.18 114.8,258.2 118.48,258.2 122.16,258.2 125.83,258.2 129.51,258.15 133.19,258.07 136.86,257.99 140.54,257.67 144.22,257.35 147.89,257.03 151.57,256.71 155.25,256.39 158.92,256.08 162.6,255.78 166.28,255.48 169.95,255.18 173.63,254.88 177.31,254.54 180.98,254.15 184.66,253.76 188.34,253.38 192.01,252.95 195.69,252.46 199.37,251.99 203.05,251.52 206.72,251.04 210.4,250.62 214.08,250.22 217.75,249.83 221.43,249.34 225.11,248.83 228.78,248.18 232.46,247.8 236.14,247.46 239.81,247.18 243.49,246.45 247.17,245.82 250.84,245.24 254.52,244.48 258.2,243.73 261.87,242.83 265.55,242.05 269.23,241.57 272.9,241 276.58,240.75 280.26,240.46 283.93,240.15 287.61,240.01 291.29,239.52 294.96,239.06 298.64,238.56 302.32,237.88 305.99,237.24 309.67,236.61 313.35,235.96 317.02,235.25 320.7,234.51 324.38,234.04 328.05,233.72 331.73,233.35 335.41,232.94 339.08,232.56 342.76,232.21 346.44,231.7 350.11,231.2 353.79,230.64 357.47,229.98 361.14,229.53 364.82,229.17 368.5,228.56 372.17,228.03 375.85,227.47 379.53,226.93 383.2,226.27 386.88,225.31 390.56,224.44 394.23,223.42 397.91,221.99 401.59,220.01 405.26,217.86 408.94,216.06 412.62,214.52 416.29,212.47 419.97,210.59 423.65,208.67 427.32,207.3 431,205.88 434.68,204.27 438.35,202.83 442.03,201.09 445.71,199.45 449.38,197.89 453.06,196.28 456.74,194.96 460.41,193.15 464.09,191.43 467.77,189.63 471.44,188.21 475.12,186.83 478.8,185.46 482.47,184.04 486.15,182.81 489.83,181.6 493.5,180.59 497.18,179.26 500.86,178.02 504.53,176.43 508.21,174.87 511.89,173.03 515.56,171.13 519.24,169.24 522.92,167.27 526.59,165.39 530.27,163.57 533.95,161.68 537.62,159.44 541.3,156.99 544.98,154.5 548.65,151.95 552.33,149.48 556.01,146.55 559.68,144.37 563.36,141.91 567.04,139.4 570.72,137.64 574.39,135.81 578.07,134.19 581.75,132.75 585.42,132.18 589.1,131.8 592.78,131.02 596.45,129.8 600.13,128.91 603.81,127.96 607.48,127.35 611.16,126.91 614.84,126.37 618.51,126.04 622.19,126.45 625.87,127.08 629.54,128.31 633.22,129.31 636.9,130.05 640.57,130.63 644.25,131.3 647.93,131.95 651.6,132.84 655.28,133.49 658.96,133.9 662.63,134.35 666.31,134.87 669.99,135.55 673.66,136.07 677.34,136.43 681.02,137.07 684.69,137.49 688.37,138.26 692.05,138.9 695.72,139.58 699.4,140.4 703.08,140.98 706.75,141.8 710.43,142.47 714.11,143.29 717.78,144.32 721.46,145.83 725.14,147.45 728.81,149.11 732.49,150.87 736.17,153.11 739.84,155.7 743.52,157.64 747.2,159.83 750.87,161.96 754.55,163.54 758.23,165.25 761.9,167.02 765.58,168.93 769.26,170.42 772.93,172.1 776.61,173.86 780.29,175.84 783.96,177.98 787.64,180.28 791.32,182.34 794.99,184.01 798.67,185.76 802.35,187.44 806.02,188.24 809.7,189.08 813.38,189.5 817.05,190.15 820.73,191.1 824.41,191.81 828.08,192.62 831.76,193.39 835.44,194.04 839.11,194.61 842.79,195.23 846.47,195.94 850.14,196.44 853.82,196.72 857.5,196.96 861.17,197.01 864.85,197 868.53,196.97 872.2,196.96 875.88,197 879.56,197.19 883.23,197.54 886.91,198.72 890.59,199.69 894.26,200.71 897.94,201.5 901.62,202.16 905.29,202.84 908.97,203.51" fill="none" stroke="#e4484a" stroke-width="1.15" stroke-linejoin="round"/>
<polyline points="8.18,261 11.86,262.29 15.53,263.01 19.21,263.85 22.89,264.68 26.56,265 30.24,265.65 33.92,266.22 37.59,266.76 41.27,267.39 44.95,267.9 48.62,267.24 52.3,266.52 55.98,265.55 59.65,265.06 63.33,264.4 67.01,263.85 70.68,263.48 74.36,263.15 78.04,262.67 81.71,261.37 85.39,259.15 89.07,257.36 92.74,255.34 96.42,253.74 100.1,252.24 103.77,249.85 107.45,249.91 111.13,249.39 114.8,249.14 118.48,249 122.16,248.87 125.83,248.7 129.51,248.86 133.19,249.14 136.86,249.78 140.54,249.45 144.22,249.2 147.89,248.92 151.57,248.93 155.25,248.6 158.92,248.57 162.6,248.71 166.28,248.93 169.95,249.13 173.63,249.36 177.31,249.05 180.98,248.37 184.66,248.06 188.34,247.82 192.01,247.52 195.69,247.28 199.37,247.38 203.05,247.34 206.72,247.17 210.4,247.08 214.08,247.2 217.75,247.35 221.43,247 225.11,246.81 228.78,246.2 232.46,245.81 236.14,245.51 239.81,245.19 243.49,243.16 247.17,241.57 250.84,240.45 254.52,238.68 258.2,237.14 261.87,234.87 265.55,232.49 269.23,230.73 272.9,228.94 276.58,228.45 280.26,228.01 283.93,227.51 287.61,226.81 291.29,226.72 294.96,226.2 298.64,225.79 302.32,224.62 305.99,223.81 309.67,222.97 313.35,222.51 317.02,221.94 320.7,221.65 324.38,221.75 328.05,222.61 331.73,223.1 335.41,223.59 339.08,223.89 342.76,224.55 346.44,224.55 350.11,224.67 353.79,224.54 357.47,223.94 361.14,223.94 364.82,223.94 368.5,223.04 372.17,222.65 375.85,222.06 379.53,221.7 383.2,221.09 386.88,218.97 390.56,217.36 394.23,215.24 397.91,211.59 401.59,205.72 405.26,199.1 408.94,194.87 412.62,191.9 416.29,186.92 419.97,183.26 423.65,179.73 427.32,177.41 431,175.31 434.68,172.83 438.35,170.65 442.03,167.3 445.71,163.88 449.38,160.86 453.06,158.25 456.74,157.06 460.41,154.82 464.09,153.18 467.77,151.23 471.44,151.04 475.12,151.59 478.8,151.69 482.47,151.61 486.15,151.67 489.83,152.02 493.5,153.25 497.18,153.06 500.86,153.22 504.53,151.88 508.21,151.2 511.89,150.05 515.56,148.4 519.24,146.99 522.92,145.22 526.59,144.42 530.27,143.38 533.95,142.22 537.62,139.26 541.3,135.16 544.98,131.74 548.65,128.35 552.33,124.83 556.01,119.81 559.68,118.62 563.36,116.4 567.04,113.86 570.72,113.62 574.39,113.33 578.07,113.37 581.75,112.57 585.42,113.44 589.1,113.78 592.78,113.96 596.45,112.88 600.13,111.21 603.81,110.24 607.48,110.72 611.16,112.92 614.84,114.37 618.51,116.14 622.19,121.3 625.87,125.65 629.54,132.03 633.22,136.83 636.9,140.02 640.57,143.32 644.25,145.57 647.93,147.94 651.6,150.73 655.28,153.66 658.96,155.91 662.63,157.77 666.31,159.55 669.99,162.12 673.66,163.95 677.34,165.73 681.02,167.4 684.69,168.2 688.37,169.1 692.05,169.85 695.72,170.17 699.4,170.5 703.08,169.75 706.75,169.72 710.43,169.76 714.11,170.21 717.78,171.39 721.46,172.84 725.14,173.27 728.81,174.11 732.49,175.07 736.17,177.76 739.84,180.04 743.52,182.39 747.2,184.49 750.87,185.63 754.55,186.07 758.23,187 761.9,188.49 765.58,189.62 769.26,190.27 772.93,191.25 776.61,192.47 780.29,193.3 783.96,194.19 787.64,196.24 791.32,198.34 794.99,200.19 798.67,201.66 802.35,203.11 806.02,203.77 809.7,204.29 813.38,205.16 817.05,206.08 820.73,207.23 824.41,207.49 828.08,207.48 831.76,207.63 835.44,207.79 839.11,208.01 842.79,208.04 846.47,208.28 850.14,207.63 853.82,206.95 857.5,205.64 861.17,203.67 864.85,201.63 868.53,199.03 872.2,196.9 875.88,195.19 879.56,193.97 883.23,193.7 886.91,196.31 890.59,198.34 894.26,200.5 897.94,201.73 901.62,203.04 905.29,204.67 908.97,205.24" fill="none" stroke="#4c70b6" stroke-width="1.15" stroke-linejoin="round"/>
</g>
<text font-family="&quot;Liberation Sans&quot;, sans-serif" font-size="11" fill="#5c5c5c" stroke="#5c5c5c" stroke-width="0.35" x="13" y="54.6" textLength="152.2" lengthAdjust="spacingAndGlyphs">Ethereum / Tether, 1D, HITBTC</text>
<text font-family="&quot;Liberation Sans&quot;, sans-serif" font-size="11" fill="#6e6e6e" x="13" y="68.7" textLength="65.9" lengthAdjust="spacingAndGlyphs">MA (50, close)</text>
<text font-family="&quot;Liberation Sans&quot;, sans-serif" font-size="11" fill="#6e6e6e" x="13" y="82.8" textLength="71.7" lengthAdjust="spacingAndGlyphs">EMA (20, close)</text>
<g clip-path="url(#cr)">
<polyline points="8.18,370.48 11.86,372.25 15.53,363.45 19.21,365.84 22.89,366.53 26.56,358.23 30.24,363.2 33.92,362.64 37.59,363.04 41.27,365.14 44.95,363.78 48.62,342.22 52.3,340.53 55.98,335.82 59.65,343.32 63.33,340.01 67.01,340.87 70.68,343.53 74.36,343.53 78.04,340.29 81.71,327.17 85.39,316.63 89.07,321.36 92.74,317.82 96.42,322.57 100.1,322.13 103.77,313.13 107.45,347.17 111.13,341.6 114.8,344.13 118.48,345.17 122.16,345.17 125.83,344.43 129.51,348.88 133.19,350.67 136.86,355.87 140.54,343.51 144.22,344.13 147.89,343.56 151.57,347.59 155.25,342.69 158.92,347.06 162.6,349.77 166.28,351.14 169.95,351.14 173.63,351.92 177.31,342.82 180.98,336.53 184.66,342.55 188.34,343.4 192.01,341.89 195.69,342.85 199.37,349.39 203.05,346.7 206.72,344.02 210.4,345.55 214.08,350.36 217.75,351.25 221.43,340.37 225.11,343.58 228.78,334.91 232.46,339.18 236.14,340.5 239.81,339.42 243.49,315.34 247.17,321.36 250.84,328.46 254.52,320.53 258.2,321.91 261.87,314.29 265.55,312 269.23,320.32 272.9,318.63 276.58,338.69 280.26,338.69 283.93,337.5 287.61,334.52 291.29,343.58 294.96,337.97 298.64,339.13 302.32,329.88 305.99,334.14 309.67,333.01 313.35,338.28 317.02,336.26 320.7,340.48 324.38,346.7 328.05,358.01 331.73,353.2 335.41,354.05 339.08,351.43 342.76,357.34 346.44,347.54 350.11,349.42 353.79,345.65 357.47,338.73 361.14,347.68 364.82,347.68 368.5,335.43 372.17,342.29 375.85,339.3 379.53,342.29 383.2,338.28 386.88,322.66 390.56,327.61 394.23,322.27 397.91,311.89 401.59,302.65 405.26,299.42 408.94,318.51 412.62,326.21 416.29,317.5 419.97,324.39 423.65,323.53 427.32,330.59 431,330.59 434.68,327.75 438.35,328.34 442.03,321.95 445.71,320.3 449.38,320.96 453.06,322.37 456.74,334.18 460.41,327.69 464.09,331.36 467.77,328.82 471.44,342.44 475.12,347.77 478.8,345.06 482.47,343.87 486.15,344.97 489.83,347.58 493.5,354.98 497.18,344.51 500.86,347.18 504.53,336.98 508.21,341.47 511.89,337.97 515.56,334.17 519.24,334.9 522.92,331.76 526.59,339.52 530.27,337.35 533.95,335.71 537.62,324.24 541.3,317.81 544.98,320.95 548.65,319.57 552.33,317.52 556.01,310.58 559.68,338.69 563.36,333.45 567.04,331.14 570.72,344.22 574.39,343.84 578.07,345.72 581.75,341.13 585.42,350.77 589.1,348.13 592.78,347.41 596.45,340.32 600.13,336.77 603.81,340.55 607.48,349.45 611.16,358.87 614.84,355.47 618.51,357.88 622.19,372.71 625.87,370.54 629.54,378.28 633.22,371.95 636.9,365.04 640.57,366.55 644.25,362.06 647.93,363.43 651.6,366.18 655.28,367.88 658.96,364.92 662.63,363.7 666.31,364.13 669.99,369 673.66,364.87 677.34,365.52 681.02,365.86 684.69,359.24 688.37,360.45 692.05,359.86 695.72,356.28 699.4,356.58 703.08,346.42 706.75,352.31 710.43,352.83 714.11,356.55 717.78,362.88 721.46,365.72 725.14,355.97 728.81,359.67 732.49,361.25 736.17,373.49 739.84,371.69 743.52,373.42 747.2,373.09 750.87,363.71 754.55,357.18 758.23,361.45 761.9,366.36 765.58,363.73 769.26,359.42 772.93,362.74 776.61,365.42 780.29,362.03 783.96,363.22 787.64,373.05 791.32,374.82 794.99,373.85 798.67,370.83 802.35,371.92 806.02,361.92 809.7,360.97 813.38,365 817.05,366.31 820.73,369.56 824.41,357.18 828.08,353.82 831.76,355.71 835.44,356.04 839.11,357.1 842.79,354.16 846.47,357.43 850.14,343.57 853.82,342.31 857.5,333.58 861.17,325.68 864.85,323.36 868.53,317.44 872.2,321.51 875.88,325.54 879.56,331.34 883.23,344.17 886.91,370.54 890.59,366.74 894.26,369 897.94,360.53 901.62,362.2 905.29,365.63 908.97,356.46" fill="none" stroke="#ee8a5e" stroke-width="1.05" stroke-linejoin="round"/>
<line x1="788" y1="380.8" x2="912" y2="368.6" stroke="#ff9800" stroke-width="2"/>
</g>
<text font-family="&quot;Liberation Sans&quot;, sans-serif" font-size="11" fill="#6e6e6e" x="13" y="308.7" textLength="64.3" lengthAdjust="spacingAndGlyphs">RSI (14, close)</text>
<path d="M745.5,320.5 H851.5 Q855.5,320.5 855.5,324.5 V343.5 Q855.5,347.5 851.5,347.5 H805.5 L818,379 L792,347.5 H745.5 Q741.5,347.5 741.5,343.5 V324.5 Q741.5,320.5 745.5,320.5 Z" fill="#f5d5ea" fill-opacity="0.35" stroke="#9c3563" stroke-opacity="0.8" stroke-width="1.6" stroke-linejoin="round"/>
<text font-family="&quot;Liberation Sans&quot;, sans-serif" font-size="11.5" fill="#9c3563" x="750.2" y="337.4" textLength="96.8" lengthAdjust="spacingAndGlyphs">Positive divergence</text>
<rect x="5.5" y="36.5" width="1013" height="371" fill="none" stroke="#5d5d5d" stroke-width="1"/>
<line x1="971.5" y1="36" x2="971.5" y2="408" stroke="#5d5d5d" stroke-width="1"/>
<line x1="5" y1="290.5" x2="1019" y2="290.5" stroke="#5d5d5d" stroke-width="1"/>
<line x1="5" y1="384.5" x2="1019" y2="384.5" stroke="#5d5d5d" stroke-width="1"/>
<line x1="972" y1="55" x2="975" y2="55" stroke="#555555" stroke-width="1"/>
<text font-family="&quot;Liberation Sans&quot;, sans-serif" font-size="9.3" fill="#555555" stroke="#555555" stroke-width="0.25" x="979" y="59" textLength="32" lengthAdjust="spacingAndGlyphs">360.000</text>
<line x1="972" y1="124" x2="975" y2="124" stroke="#555555" stroke-width="1"/>
<text font-family="&quot;Liberation Sans&quot;, sans-serif" font-size="9.3" fill="#555555" stroke="#555555" stroke-width="0.25" x="979" y="128" textLength="32" lengthAdjust="spacingAndGlyphs">280.000</text>
<line x1="972" y1="261" x2="975" y2="261" stroke="#555555" stroke-width="1"/>
<text font-family="&quot;Liberation Sans&quot;, sans-serif" font-size="9.3" fill="#555555" stroke="#555555" stroke-width="0.25" x="979" y="265" textLength="32" lengthAdjust="spacingAndGlyphs">120.000</text>
<rect x="971" y="81.1" width="47.5" height="14" fill="#ff9800"/>
<line x1="972" y1="88.1" x2="975" y2="88.1" stroke="#fffbe8" stroke-width="1"/>
<text font-family="&quot;Liberation Sans&quot;, sans-serif" font-size="9.3" fill="#fffbe8" stroke="#fffbe8" stroke-width="0.4" x="979" y="90.8" textLength="32" lengthAdjust="spacingAndGlyphs">320.840</text>
<rect x="971" y="154.4" width="47.5" height="14" fill="#ff9800"/>
<line x1="972" y1="161.4" x2="975" y2="161.4" stroke="#fffbe8" stroke-width="1"/>
<text font-family="&quot;Liberation Sans&quot;, sans-serif" font-size="9.3" fill="#fffbe8" stroke="#fffbe8" stroke-width="0.4" x="979" y="164.1" textLength="32" lengthAdjust="spacingAndGlyphs">235.700</text>
<rect x="971" y="181.8" width="47.5" height="14" fill="#ff9800"/>
<line x1="972" y1="188.8" x2="975" y2="188.8" stroke="#fffbe8" stroke-width="1"/>
<text font-family="&quot;Liberation Sans&quot;, sans-serif" font-size="9.3" fill="#fffbe8" stroke="#fffbe8" stroke-width="0.4" x="979" y="191.5" textLength="32" lengthAdjust="spacingAndGlyphs">203.708</text>
<rect x="948" y="196.8" width="22" height="14" fill="#ff0a0a"/>
<text font-family="&quot;Liberation Sans&quot;, sans-serif" font-size="9.3" fill="#ffffff" stroke="#ffffff" stroke-width="0.4" x="966.8" y="206.5" text-anchor="end" textLength="11.8" lengthAdjust="spacingAndGlyphs">MA</text>
<rect x="971" y="196.8" width="47.5" height="14" fill="#ff0a0a"/>
<line x1="972" y1="203.8" x2="975" y2="203.8" stroke="#ffffff" stroke-width="1"/>
<text font-family="&quot;Liberation Sans&quot;, sans-serif" font-size="9.3" fill="#ffffff" stroke="#ffffff" stroke-width="0.4" x="979" y="206.5" textLength="32" lengthAdjust="spacingAndGlyphs">186.504</text>
<rect x="942.7" y="210.8" width="27.3" height="14" fill="#1f4ea6"/>
<text font-family="&quot;Liberation Sans&quot;, sans-serif" font-size="9.3" fill="#ffffff" stroke="#ffffff" stroke-width="0.4" x="966.8" y="220.5" text-anchor="end" textLength="17.5" lengthAdjust="spacingAndGlyphs">EMA</text>
<rect x="971" y="210.8" width="47.5" height="14" fill="#1f4ea6"/>
<line x1="972" y1="217.8" x2="975" y2="217.8" stroke="#ffffff" stroke-width="1"/>
<text font-family="&quot;Liberation Sans&quot;, sans-serif" font-size="9.3" fill="#ffffff" stroke="#ffffff" stroke-width="0.4" x="979" y="220.5" textLength="32" lengthAdjust="spacingAndGlyphs">184.487</text>
<rect x="921.2" y="224.9" width="48.8" height="14" fill="#6ba583"/>
<text font-family="&quot;Liberation Sans&quot;, sans-serif" font-size="9.3" fill="#ffffff" stroke="#ffffff" stroke-width="0.4" x="966.8" y="234.6" text-anchor="end" textLength="38" lengthAdjust="spacingAndGlyphs">ETHUSDT</text>
<rect x="971" y="224.9" width="47.5" height="14" fill="#6ba583"/>
<line x1="972" y1="231.9" x2="975" y2="231.9" stroke="#ffffff" stroke-width="1"/>
<text font-family="&quot;Liberation Sans&quot;, sans-serif" font-size="9.3" fill="#ffffff" stroke="#ffffff" stroke-width="0.4" x="979" y="234.6" textLength="32" lengthAdjust="spacingAndGlyphs">177.574</text>
<rect x="971" y="238.9" width="47.5" height="14" fill="#ff9800"/>
<line x1="972" y1="245.9" x2="975" y2="245.9" stroke="#fffbe8" stroke-width="1"/>
<text font-family="&quot;Liberation Sans&quot;, sans-serif" font-size="9.3" fill="#fffbe8" stroke="#fffbe8" stroke-width="0.4" x="979" y="248.6" textLength="32" lengthAdjust="spacingAndGlyphs">163.755</text>
<line x1="972" y1="306.5" x2="975" y2="306.5" stroke="#555555" stroke-width="1"/>
<text font-family="&quot;Liberation Sans&quot;, sans-serif" font-size="9.3" fill="#555555" stroke="#555555" stroke-width="0.25" x="979" y="310.5" textLength="26" lengthAdjust="spacingAndGlyphs">80.00</text>
<line x1="972" y1="335.5" x2="975" y2="335.5" stroke="#555555" stroke-width="1"/>
<text font-family="&quot;Liberation Sans&quot;, sans-serif" font-size="9.3" fill="#555555" stroke="#555555" stroke-width="0.25" x="979" y="339.5" textLength="26" lengthAdjust="spacingAndGlyphs">60.00</text>
<line x1="972" y1="363.5" x2="975" y2="363.5" stroke="#555555" stroke-width="1"/>
<text font-family="&quot;Liberation Sans&quot;, sans-serif" font-size="9.3" fill="#555555" stroke="#555555" stroke-width="0.25" x="979" y="367.5" textLength="26" lengthAdjust="spacingAndGlyphs">40.00</text>
<rect x="947.4" y="349.3" width="22.6" height="13.5" fill="#f26d1d"/>
<text font-family="&quot;Liberation Sans&quot;, sans-serif" font-size="9.3" fill="#ffe9dc" stroke="#ffe9dc" stroke-width="0.2" x="968" y="359.6" text-anchor="end" textLength="12.5" lengthAdjust="spacingAndGlyphs">RSI</text>
<rect x="971" y="349.3" width="37.8" height="13.5" fill="#f26d1d"/>
<line x1="972" y1="356" x2="975" y2="356" stroke="#ffe9dc" stroke-width="1"/>
<text font-family="&quot;Liberation Sans&quot;, sans-serif" font-size="9.3" fill="#fff3ea" stroke="#fff3ea" stroke-width="0.4" x="979" y="359.6" textLength="24" lengthAdjust="spacingAndGlyphs">44.74</text>
<line x1="23.5" y1="385" x2="23.5" y2="388" stroke="#555555" stroke-width="1"/>
<text font-family="&quot;Liberation Sans&quot;, sans-serif" font-size="9.2" fill="#555555" stroke="#555555" stroke-width="0.25" x="23.5" y="400" text-anchor="middle">Feb</text>
<line x1="126.5" y1="385" x2="126.5" y2="388" stroke="#555555" stroke-width="1"/>
<text font-family="&quot;Liberation Sans&quot;, sans-serif" font-size="9.2" fill="#555555" stroke="#555555" stroke-width="0.25" x="126.5" y="400" text-anchor="middle">Mar</text>
<line x1="240.5" y1="385" x2="240.5" y2="388" stroke="#555555" stroke-width="1"/>
<text font-family="&quot;Liberation Sans&quot;, sans-serif" font-size="9.2" fill="#555555" stroke="#555555" stroke-width="0.25" x="240.5" y="400" text-anchor="middle">Apr</text>
<line x1="350.5" y1="385" x2="350.5" y2="388" stroke="#555555" stroke-width="1"/>
<text font-family="&quot;Liberation Sans&quot;, sans-serif" font-size="9.2" fill="#555555" stroke="#555555" stroke-width="0.25" x="350.5" y="400" text-anchor="middle">May</text>
<line x1="464.5" y1="385" x2="464.5" y2="388" stroke="#555555" stroke-width="1"/>
<text font-family="&quot;Liberation Sans&quot;, sans-serif" font-size="9.2" fill="#555555" stroke="#555555" stroke-width="0.25" x="464.5" y="400" text-anchor="middle">Jun</text>
<line x1="574.5" y1="385" x2="574.5" y2="388" stroke="#555555" stroke-width="1"/>
<text font-family="&quot;Liberation Sans&quot;, sans-serif" font-size="9.2" fill="#555555" stroke="#555555" stroke-width="0.25" x="574.5" y="400" text-anchor="middle">Jul</text>
<line x1="688.5" y1="385" x2="688.5" y2="388" stroke="#555555" stroke-width="1"/>
<text font-family="&quot;Liberation Sans&quot;, sans-serif" font-size="9.2" fill="#555555" stroke="#555555" stroke-width="0.25" x="688.5" y="400" text-anchor="middle">Aug</text>
<line x1="803.5" y1="385" x2="803.5" y2="388" stroke="#555555" stroke-width="1"/>
<text font-family="&quot;Liberation Sans&quot;, sans-serif" font-size="9.2" fill="#555555" stroke="#555555" stroke-width="0.25" x="803.5" y="400" text-anchor="middle">Sep</text>
<line x1="913.5" y1="385" x2="913.5" y2="388" stroke="#555555" stroke-width="1"/>
<text font-family="&quot;Liberation Sans&quot;, sans-serif" font-size="9.2" fill="#555555" stroke="#555555" stroke-width="0.25" x="913.5" y="400" text-anchor="middle">Oct</text>
<text font-family="&quot;Liberation Sans&quot;, sans-serif" font-size="11.5" fill="#2a2a2a" stroke="#2a2a2a" stroke-width="0.15" x="5.5" y="426.8" textLength="60.9" lengthAdjust="spacingAndGlyphs">Created with</text>
<clipPath id="lg"><rect x="66" y="414" width="26" height="14.3"/></clipPath><g fill="#45b1e3" clip-path="url(#lg)"><circle cx="80.6" cy="423.1" r="6.3"/><circle cx="73.3" cy="424.6" r="3.7"/><circle cx="85.7" cy="425.2" r="3"/><rect x="73.3" y="424.6" width="12.4" height="3.7"/></g><polyline points="70.4,426.3 76.2,420.5 81.6,426.5 87.2,421.2" fill="none" stroke="#ffffff" stroke-width="1.5" stroke-linejoin="round" stroke-linecap="round"/>
<text font-family="&quot;Liberation Sans&quot;, sans-serif" font-size="11.5" fill="#58b4e4" x="89.8" y="426.9" textLength="57.9" lengthAdjust="spacingAndGlyphs">TradingView</text>
</svg>
</body></html>
